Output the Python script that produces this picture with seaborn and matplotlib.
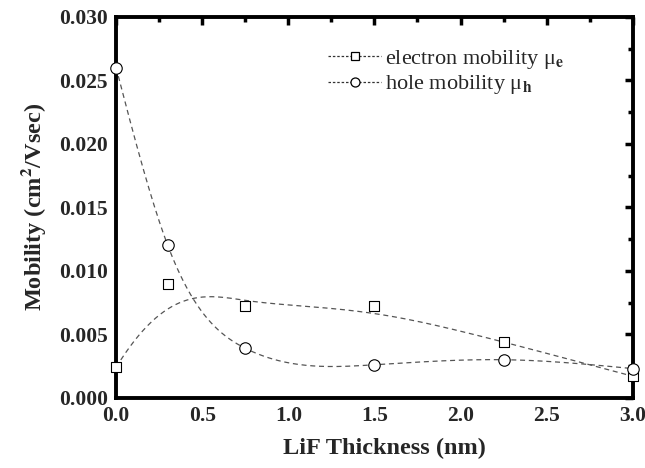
import numpy as np
import pandas as pd
import matplotlib
matplotlib.use("Agg")
import matplotlib.pyplot as plt
import seaborn as sns
from matplotlib.ticker import MultipleLocator, FormatStrFormatter
from matplotlib.lines import Line2D

# ---- data ----
thickness = [0.0, 0.3, 0.75, 1.5, 2.25, 3.0]
electron_mobility = [0.0024, 0.0090, 0.0072, 0.0072, 0.0044, 0.0017]
hole_mobility = [0.0260, 0.0120, 0.0039, 0.0026, 0.0030, 0.0023]
electron_label = "electron mobility μ$_\\mathbf{e}$"
hole_label = "hole mobility μ$_\\mathbf{h}$"


def bspline(xs, ys, n=300, p=3):
    """Clamped cubic B-spline with the data points as control points."""
    ctrl = np.column_stack([xs, ys]).astype(float)
    k = len(ctrl)
    inner = np.linspace(0, 1, k - p + 1)[1:-1]
    knots = np.concatenate([np.zeros(p + 1), inner, np.ones(p + 1)])
    ts = np.linspace(0, 1, n)
    out = []
    for t in ts:
        if t >= 1.0:
            out.append(ctrl[-1])
            continue
        s = np.searchsorted(knots, t, side="right") - 1
        d = [ctrl[j + s - p].copy() for j in range(p + 1)]
        for r in range(1, p + 1):
            for j in range(p, r - 1, -1):
                i = j + s - p
                a = (t - knots[i]) / (knots[i + 1 + p - r] - knots[i])
                d[j] = (1 - a) * d[j - 1] + a * d[j]
        out.append(d[p])
    out = np.array(out)
    return out[:, 0], out[:, 1]


def natural_spline(xs, ys, n=300):
    x = np.asarray(xs, float)
    y = np.asarray(ys, float)
    m = len(x)
    h = np.diff(x)
    A = np.zeros((m, m))
    b = np.zeros(m)
    A[0, 0] = A[-1, -1] = 1
    for i in range(1, m - 1):
        A[i, i - 1] = h[i - 1]
        A[i, i] = 2 * (h[i - 1] + h[i])
        A[i, i + 1] = h[i]
        b[i] = 3 * ((y[i + 1] - y[i]) / h[i] - (y[i] - y[i - 1]) / h[i - 1])
    c = np.linalg.solve(A, b)
    xx = np.linspace(x[0], x[-1], n)
    yy = np.empty_like(xx)
    for k, xv in enumerate(xx):
        i = min(np.searchsorted(x, xv, side="right") - 1, m - 2)
        dx = xv - x[i]
        bi = (y[i + 1] - y[i]) / h[i] - h[i] * (2 * c[i] + c[i + 1]) / 3
        di = (c[i + 1] - c[i]) / (3 * h[i])
        yy[k] = y[i] + bi * dx + c[i] * dx ** 2 + di * dx ** 3
    return xx, yy


sns.set_theme(style="white")
plt.rcParams["font.family"] = ["Liberation Serif", "DejaVu Serif"]
plt.rcParams["mathtext.fontset"] = "stix"

fig = plt.figure(figsize=(6.45, 4.68), dpi=100)
ax = fig.add_axes([0.180, 0.150, 0.801, 0.814])

ex, ey = bspline(thickness, electron_mobility)
hx, hy = natural_spline(thickness, hole_mobility)
curves = pd.DataFrame({"x": ex, "y": ey})
curves_h = pd.DataFrame({"x": hx, "y": hy})

line_kw = dict(color="#555555", linewidth=0.9, linestyle=(0, (4, 3)))
sns.lineplot(data=curves, x="x", y="y", ax=ax, sort=False, **line_kw)
sns.lineplot(data=curves_h, x="x", y="y", ax=ax, sort=False, **line_kw)

pts = pd.DataFrame({"x": thickness, "e": electron_mobility, "h": hole_mobility})
sns.scatterplot(data=pts, x="x", y="e", ax=ax, marker="s", s=55,
                facecolor="white", edgecolor="black", linewidth=0.8, zorder=5, clip_on=False)
sns.scatterplot(data=pts, x="x", y="h", ax=ax, marker="o", s=68,
                facecolor="white", edgecolor="black", linewidth=0.8, zorder=5, clip_on=False)

ax.set_xlim(0, 3.0)
ax.set_ylim(0, 0.030)
ax.xaxis.set_major_locator(MultipleLocator(0.5))
ax.xaxis.set_minor_locator(MultipleLocator(0.25))
ax.yaxis.set_major_locator(MultipleLocator(0.005))
ax.yaxis.set_minor_locator(MultipleLocator(0.0025))
ax.xaxis.set_major_formatter(FormatStrFormatter("%.1f"))
ax.yaxis.set_major_formatter(FormatStrFormatter("%.3f"))

for sp in ax.spines.values():
    sp.set_linewidth(2.8)
    sp.set_color("black")
ax.tick_params(which="both", direction="in", top=True, right=True,
               width=2.5, color="black")
ax.tick_params(which="major", length=6, labelsize=15.5, pad=6)
ax.tick_params(which="minor", length=3.5)
for lab in ax.get_xticklabels() + ax.get_yticklabels():
    lab.set_fontweight("bold")

ax.set_xlabel("LiF Thickness (nm)", fontsize=17.5, fontweight="bold", labelpad=5)
ax.set_ylabel(r"Mobility (cm$^\mathbf{2}$/Vsec)", fontsize=17.5, fontweight="bold", labelpad=8)
ax.xaxis.set_label_coords(0.52, -0.105)

handles = [
    Line2D([], [], color="#333333", linewidth=0.9, linestyle=(0, (2, 1.5)), marker="s",
           markersize=6, markerfacecolor="white", markeredgecolor="black", markeredgewidth=0.9),
    Line2D([], [], color="#333333", linewidth=0.9, linestyle=(0, (2, 1.5)), marker="o",
           markersize=6.5, markerfacecolor="white", markeredgecolor="black", markeredgewidth=0.9),
]
ax.legend(handles, [electron_label, hole_label], loc="upper left",
          bbox_to_anchor=(0.410, 0.919), frameon=False, fontsize=16,
          borderpad=0, borderaxespad=0,
          handlelength=2.4, handletextpad=0.15, labelspacing=0.12)

fig.savefig("out.png", dpi=100)
